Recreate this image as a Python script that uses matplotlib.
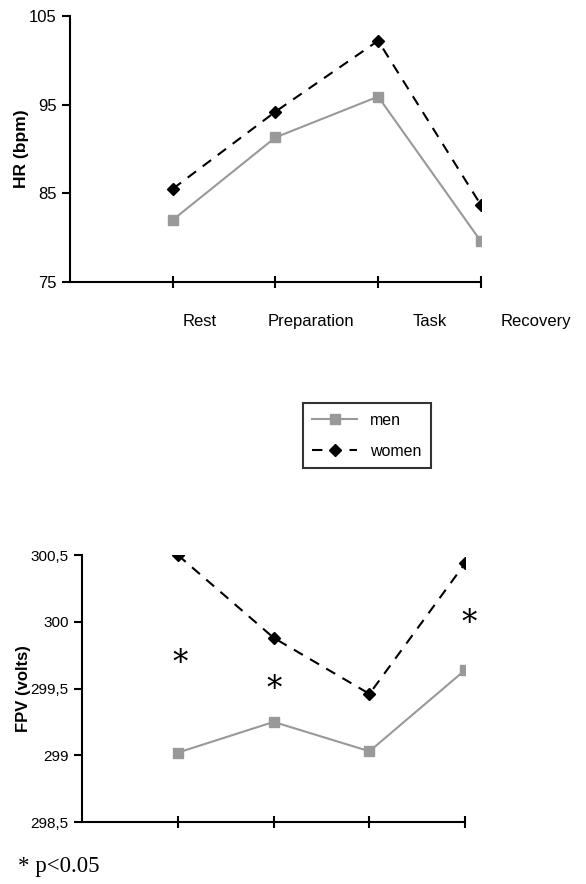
import matplotlib.pyplot as plt
import numpy as np

plt.rcParams['font.family'] = ['Liberation Sans', 'DejaVu Sans']

phases = ['Rest', 'Preparation', 'Task', 'Recovery']
hr_men = [82.0, 91.3, 95.9, 79.6]
hr_women = [85.5, 94.2, 102.2, 83.7]
fpv_men = [299.02, 299.25, 299.03, 299.64]
fpv_women = [300.5, 299.88, 299.46, 300.44]
# significance stars (position, value)
star_x = [1.02, 2.01, 4.04]
star_y = [299.69, 299.49, 299.99]
hr_ticks = [75, 85, 95, 105]
fpv_ticks = [298.5, 299, 299.5, 300, 300.5]
fpv_ticklabels = ['298,5', '299', '299,5', '300', '300,5']

x = np.arange(1, 5)
men_style = dict(color='#999999', marker='s', markersize=7, linewidth=1.5, label='men')
women_style = dict(color='black', marker='D', markersize=6, linestyle=(0, (5, 4)),
                   linewidth=1.5, label='women')

fig = plt.figure(figsize=(5.86, 8.84), dpi=100)


def style_axes(ax):
    for s in ['top', 'right']:
        ax.spines[s].set_visible(False)
    ax.spines['left'].set_linewidth(1.5)
    ax.spines['bottom'].set_linewidth(1.5)
    ax.set_xlim(0, 4)
    ax.set_xticks(x)
    ax.set_xticklabels([])
    ax.tick_params(axis='x', direction='inout', length=9, width=1.5)
    ax.tick_params(axis='y', direction='out', length=6, width=1.5, labelsize=12)


# top: heart rate
ax1 = fig.add_axes([0.1195, 0.681, 0.701, 0.301])
ax1.plot(x, hr_men, **men_style)
ax1.plot(x, hr_women, **women_style)
style_axes(ax1)
ax1.set_ylim(75, 105)
ax1.set_yticks(hr_ticks)
ax1.set_ylabel('HR (bpm)', fontweight='bold', fontsize=12.5, labelpad=0)
label_pos = [1.26, 2.35, 3.5, 4.54]
for p, name in zip(label_pos, phases):
    ax1.text(p, 70.6, name, ha='center', va='center', fontsize=12, clip_on=False)

# bottom: finger pulse volume
ax2 = fig.add_axes([0.140, 0.0701, 0.654, 0.302])
ax2.plot(x, fpv_men, **men_style)
ax2.plot(x, fpv_women, **women_style)
style_axes(ax2)
ax2.set_ylim(298.5, 300.5)
ax2.set_yticks(fpv_ticks)
ax2.set_yticklabels(fpv_ticklabels)
ax2.tick_params(axis='y', labelsize=11)
ax2.set_ylabel('FPV (volts)', fontweight='bold', fontsize=12, labelpad=0)
for sx, sy in zip(star_x, star_y):
    ax2.text(sx, sy, '*', ha='center', va='center', fontsize=22,
             family='DejaVu Serif', clip_on=False)

handles, labels = ax1.get_legend_handles_labels()
leg = fig.legend(handles, labels, loc='center', bbox_to_anchor=(0.626, 0.507),
                 fontsize=11.5, frameon=True, fancybox=False, handlelength=2.8,
                 borderpad=0.6, labelspacing=1.0)
leg.get_frame().set_edgecolor('black')
leg.get_frame().set_linewidth(1.5)

fig.text(0.03, 0.014, '* p<0.05', fontsize=16.5, family='Liberation Serif',
         va='baseline')

plt.savefig('out.png', dpi=100)
